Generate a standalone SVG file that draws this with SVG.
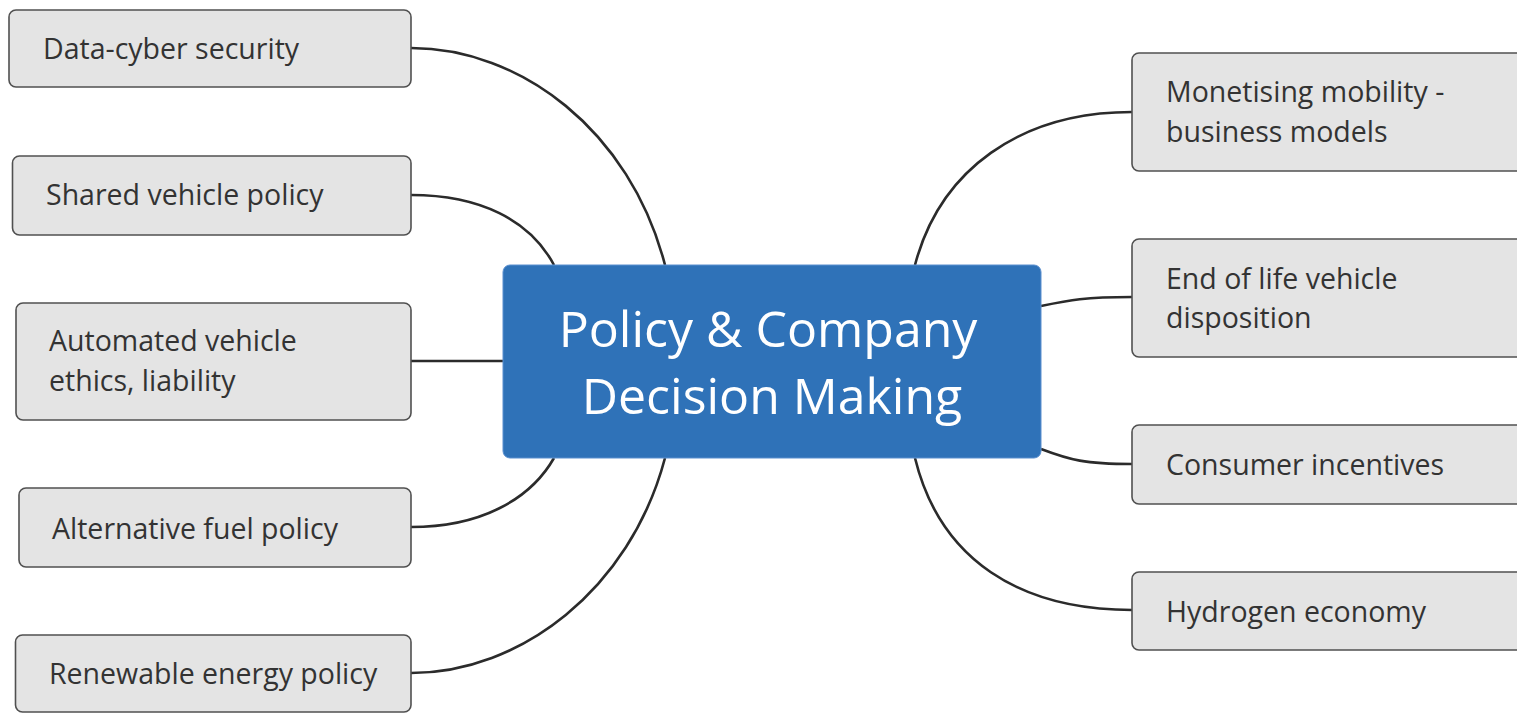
<svg xmlns="http://www.w3.org/2000/svg" width="1517" height="713" viewBox="0 0 1517 713">
<style>
.box{fill:#e4e4e4;stroke:#505050;stroke-width:1.6}
.lbl{font-family:"Open Sans","Noto Sans",sans-serif;font-size:28.5px;fill:#333}
.conn path{fill:none;stroke:#2b2b2b;stroke-width:2.6}
.center{fill:#2f72b8;stroke:#5a8fcf;stroke-width:1}
.ctext{font-family:"Open Sans","Noto Sans",sans-serif;font-size:50px;fill:#fff;text-anchor:middle}
</style>
<rect width="1517" height="713" fill="#fff"/>
<g class="conn" id="connectors">
<path d="M411,48 C520,48 630,130 665,265"/>
<path d="M411,195 C480,195 530,220 554,265"/>
<path d="M411,361 L503,361"/>
<path d="M411,527 C480,527 530,500 554,458"/>
<path d="M411,673 C520,673 630,590 665,458"/>
<path d="M1132,112 C1020,112 940,170 915,265"/>
<path d="M1132,297 C1085,297 1070,300 1041,306"/>
<path d="M1132,464 C1085,464 1070,460 1041,449"/>
<path d="M1132,610 C1020,610 940,560 915,458"/>
</g>
<g id="center-node">
<rect class="center" x="503" y="265" width="538" height="193" rx="7"/>
<text class="ctext" x="768" y="347">Policy &amp; Company</text>
<text class="ctext" x="772" y="414">Decision Making</text>
</g>
<g id="node-data-cyber">
<rect class="box" x="9" y="10" width="402" height="77" rx="7"/>
<text class="lbl" x="43" y="59">Data-cyber security</text>
</g>
<g id="node-shared">
<rect class="box" x="12.5" y="156" width="398.5" height="79" rx="7"/>
<text class="lbl" x="46" y="205">Shared vehicle policy</text>
</g>
<g id="node-automated">
<rect class="box" x="16" y="303" width="395" height="117" rx="7"/>
<text class="lbl" x="49" y="351">Automated vehicle</text>
<text class="lbl" x="49" y="391">ethics, liability</text>
</g>
<g id="node-alternative">
<rect class="box" x="19" y="488" width="392" height="79" rx="7"/>
<text class="lbl" x="52" y="539">Alternative fuel policy</text>
</g>
<g id="node-renewable">
<rect class="box" x="15.5" y="635" width="395.5" height="77" rx="7"/>
<text class="lbl" x="49" y="684">Renewable energy policy</text>
</g>
<g id="node-monetising">
<rect class="box" x="1132" y="53" width="400" height="118" rx="7"/>
<text class="lbl" x="1166" y="102">Monetising mobility -</text>
<text class="lbl" x="1166" y="142">business models</text>
</g>
<g id="node-end-of-life">
<rect class="box" x="1132" y="239" width="400" height="118" rx="7"/>
<text class="lbl" x="1166" y="289">End of life vehicle</text>
<text class="lbl" x="1166" y="328">disposition</text>
</g>
<g id="node-consumer">
<rect class="box" x="1132" y="425" width="400" height="79" rx="7"/>
<text class="lbl" x="1166" y="475">Consumer incentives</text>
</g>
<g id="node-hydrogen">
<rect class="box" x="1132" y="572" width="400" height="78" rx="7"/>
<text class="lbl" x="1166" y="622">Hydrogen economy</text>
</g>
</svg>
